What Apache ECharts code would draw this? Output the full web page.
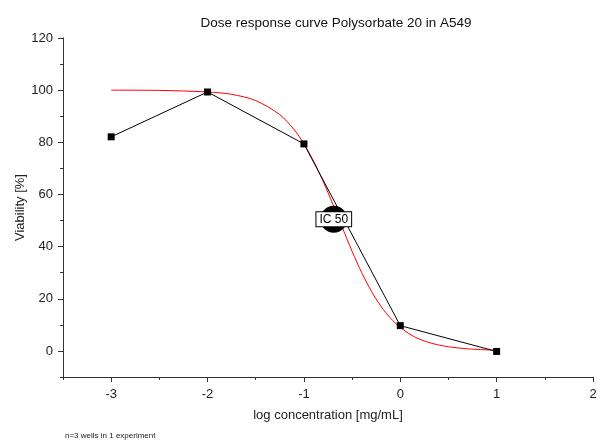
<!DOCTYPE html>
<html>
<head>
<meta charset="utf-8">
<script src="https://cdn.jsdelivr.net/npm/echarts@6/dist/echarts.min.js"></script>
<style>html,body{margin:0;padding:0;background:#fff;}#c{width:601px;height:444px;}</style>
</head>
<body>
<div id="c"></div>
<script>
var titleText = 'Dose response curve Polysorbate 20 in A549';
var xAxisName = 'log concentration [mg/mL]';
var yAxisName = 'Viability [%]';
var footnote = 'n=3 wells in 1 experiment';

var xTickLabels = [-3, -2, -1, 0, 1, 2];
var yTickLabels = [0, 20, 40, 60, 80, 100, 120];

var doseX = [-3, -2, -1, 0, 1];
var viability = [82.1, 99.3, 79.4, 9.7, -0.2];

var fitX = [-3, -2.5, -2, -1.75, -1.5, -1.25, -1.1, -1, -0.9, -0.8, -0.7, -0.6, -0.5, -0.4, -0.3, -0.2, -0.1, 0, 0.1, 0.2, 0.35, 0.5, 0.7, 1];
var fitY = [100, 99.9, 99.3, 98.4, 96.0, 90.6, 84.8, 79.4, 72.8, 65.0, 56.3, 47.2, 38.2, 30.0, 22.9, 17.1, 12.5, 9.0, 6.4, 4.5, 2.7, 1.6, 0.8, 0.25];

var ic50X = [-0.69];
var ic50Y = [50.5];
var ic50Label = 'IC 50';

function pairs(xs, ys) { return xs.map(function (x, i) { return [x, ys[i]]; }); }

var font = 'Liberation Sans, Arial, sans-serif';
var axisColor = '#333';

var chart = echarts.init(document.getElementById('c'), null, { renderer: 'canvas' });
chart.setOption({
  animation: false,
  backgroundColor: '#fff',
  title: [{
    text: titleText, left: 331, top: 11, textAlign: 'center',
    textStyle: { fontFamily: font, fontSize: 13.5, fontWeight: 'normal', color: '#111' }
  }],
  graphic: [{
    type: 'text', left: 65, top: 432,
    style: { text: footnote, fontFamily: font, fontSize: 8, fill: '#222' }
  }],
  grid: { left: 63, right: 8, top: 38, bottom: 67 },
  xAxis: [{
    type: 'value', min: -3.5, max: 2, interval: 0.5,
    name: xAxisName, nameLocation: 'middle', nameGap: 32,
    nameTextStyle: { fontFamily: font, fontSize: 13, color: '#222' },
    axisLine: { show: true, onZero: false, lineStyle: { color: axisColor, width: 1 } },
    axisTick: { show: true, inside: false, length: 5, customValues: xTickLabels, lineStyle: { color: axisColor } },
    axisLabel: { show: true, customValues: xTickLabels, margin: 11, fontFamily: font, fontSize: 13, color: '#222' },
    splitLine: { show: false }
  }, {
    type: 'value', min: -3.5, max: 2, interval: 0.5, position: 'bottom',
    axisLine: { show: false, onZero: false },
    axisTick: { show: true, inside: false, length: 3, lineStyle: { color: axisColor } },
    axisLabel: { show: false }, splitLine: { show: false }
  }],
  yAxis: [{
    type: 'value', min: -10, max: 120, interval: 10,
    name: yAxisName, nameLocation: 'middle', nameGap: 36, nameMoveOverlap: false,
    nameTextStyle: { fontFamily: font, fontSize: 13, color: '#222' },
    axisLine: { show: true, onZero: false, lineStyle: { color: axisColor, width: 1 } },
    axisTick: { show: true, inside: false, length: 5, customValues: yTickLabels, lineStyle: { color: axisColor } },
    axisLabel: { show: true, customValues: yTickLabels, margin: 10, fontFamily: font, fontSize: 13, color: '#222' },
    splitLine: { show: false }
  }, {
    type: 'value', min: -10, max: 120, interval: 10, position: 'left',
    axisLine: { show: false, onZero: false },
    axisTick: { show: true, inside: false, length: 3, lineStyle: { color: axisColor } },
    axisLabel: { show: false }, splitLine: { show: false }
  }],
  series: [{
    type: 'line', name: 'fit', data: pairs(fitX, fitY), smooth: 0.3,
    showSymbol: false, symbol: 'none',
    lineStyle: { color: '#ff0000', width: 1 }, z: 2
  }, {
    type: 'line', name: 'data', data: pairs(doseX, viability),
    symbol: 'rect', symbolSize: 7, showSymbol: true,
    itemStyle: { color: '#000' },
    lineStyle: { color: '#000', width: 1 }, z: 3
  }, {
    type: 'scatter', name: 'IC50', data: pairs(ic50X, ic50Y),
    symbol: 'circle', symbolSize: 27,
    itemStyle: { color: '#000', opacity: 1 },
    label: {
      show: true, position: 'inside', formatter: ic50Label,
      fontFamily: font, fontSize: 12, color: '#000',
      backgroundColor: '#fff', borderColor: '#000', borderWidth: 1,
      padding: [1, 3, 1, 3]
    }, z: 4
  }]
});
</script>
</body>
</html>
